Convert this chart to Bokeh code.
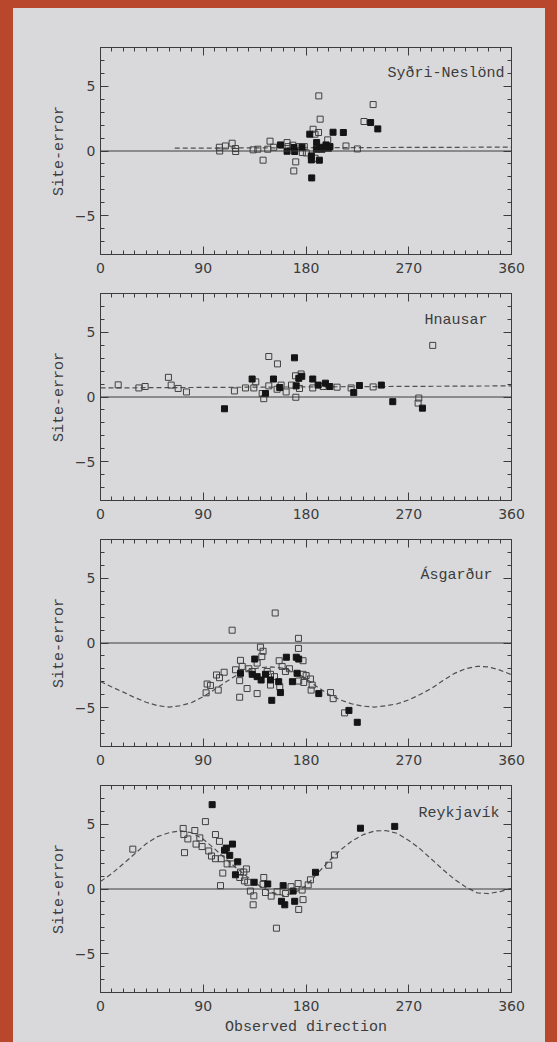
from bokeh.plotting import figure
from bokeh.layouts import column
from bokeh.models import FixedTicker, LinearAxis, Range1d, Label, Span, CustomJSTickFormatter
from bokeh.embed import file_html
from bokeh.resources import INLINE

# ---------------- data ----------------
X_MAJOR = [0, 90, 180, 270, 360]
X_MINOR = [0, 10, 20, 30, 40, 50, 60, 70, 80, 90, 100, 110, 120, 130, 140, 150, 160, 170, 180,
           190, 200, 210, 220, 230, 240, 250, 260, 270, 280, 290, 300, 310, 320, 330, 340, 350, 360]
Y_MAJOR = [-5, 0, 5]
Y_MINOR = [-8, -7, -6, -5, -4, -3, -2, -1, 0, 1, 2, 3, 4, 5, 6, 7, 8]

NAMES = ["Syðri-Neslönd", "Hnausar", "Ásgarður", "Reykjavík"]

# Syðri-Neslönd
sn_open_x = [191.2, 238.8, 192.4, 230.8, 186.2, 191.0, 148.5, 115.3, 104.1, 109.4, 104.4, 118.4, 118.2,
             133.7, 137.8, 146.5, 151.7, 163.4, 164.3, 168.4, 173.6, 176.8, 180.3, 178.5, 142.4, 171.0,
             169.3, 187.9, 199.0, 215.0, 225.0, 187.9]
sn_open_y = [4.26, 3.59, 2.46, 2.28, 1.68, 1.43, 0.76, 0.60, 0.29, 0.39, 0.00, -0.04, 0.19,
             0.09, 0.14, 0.14, 0.29, 0.65, 0.34, 0.45, 0.34, -0.12, -0.15, 0.34, -0.71, -0.84,
             -1.54, -0.56, 0.86, 0.39, 0.16, 1.30]
sn_fill_x = [236.6, 242.9, 203.7, 212.7, 183.3, 157.6, 163.4, 169.5, 170.1, 176.5, 185.0, 184.7, 184.7,
             191.7, 189.3, 197.5, 201.0, 194.1, 199.8, 192.6, 189.1]
sn_fill_y = [2.20, 1.71, 1.45, 1.43, 1.30, 0.47, -0.02, 0.27, -0.04, 0.29, -2.08, -0.38, -0.69,
             -0.71, 0.65, 0.47, 0.34, 0.14, 0.22, 0.29, 0.14]
sn_curve_x = [65, 360]
sn_curve_y = [0.22, 0.30]

# Hnausar
hn_open_x = [15.5, 33.6, 39.1, 59.5, 61.9, 68.0, 75.3, 117.3, 127.0, 136.0, 134.3, 141.6, 143.0, 147.4,
             147.4, 155.0, 154.7, 158.2, 162.6, 167.3, 170.8, 171.1, 175.7, 174.3, 185.9, 195.0, 207.2,
             219.5, 238.8, 278.8, 278.2, 291.0]
hn_open_y = [0.94, 0.70, 0.81, 1.52, 0.92, 0.66, 0.39, 0.47, 0.70, 1.17, 0.70, 0.27, -0.13, 3.13,
             0.86, 2.56, 0.60, 0.92, 0.39, 0.92, 1.64, -0.02, 1.78, 0.66, 0.70, 0.81, 0.76,
             0.70, 0.78, -0.08, -0.47, 3.99]
hn_fill_x = [108.6, 132.8, 144.5, 151.5, 157.0, 169.9, 171.4, 173.7, 176.3, 185.9, 190.6, 197.0, 200.8,
             221.8, 226.8, 246.0, 256.0, 282.0]
hn_fill_y = [-0.91, 1.39, 0.27, 1.39, 0.73, 3.03, 0.86, 1.44, 1.60, 1.39, 0.92, 1.07, 0.81,
             0.34, 0.89, 0.92, -0.36, -0.86]
hn_curve_x = [0, 360]
hn_curve_y = [0.70, 0.86]

# Ásgarður
as_open_x = [153.0, 115.3, 173.4, 173.4, 140.1, 142.4, 141.3, 137.2, 177.4, 156.5, 122.6, 124.1, 118.3,
             108.3, 101.6, 104.2, 129.9, 132.9, 146.0, 148.9, 152.4, 148.9, 157.0, 121.9, 128.4, 121.9,
             137.2, 93.4, 96.3, 103.1, 92.5, 159.1, 162.0, 165.5, 177.4, 180.1, 173.6, 178.0, 183.9,
             185.4, 184.5, 201.5, 203.8, 213.8]
as_open_y = [2.32, 0.99, 0.36, -0.42, -0.32, -0.64, -1.05, -1.55, -1.37, -1.37, -1.34, -1.81, -2.07,
             -2.26, -2.47, -2.68, -1.99, -2.20, -2.20, -2.42, -2.60, -3.25, -3.38, -2.91, -3.52, -4.19,
             -3.91, -3.17, -3.28, -3.64, -3.85, -1.81, -2.20, -1.99, -2.42, -2.52, -2.94, -3.05, -2.78,
             -3.25, -3.64, -3.83, -4.30, -5.40]
as_fill_x = [135.1, 162.8, 171.5, 173.6, 122.6, 132.9, 137.2, 140.7, 144.5, 148.9, 156.1, 157.6, 150.0,
             172.2, 168.1, 191.2, 217.6, 224.9]
as_fill_y = [-1.24, -1.10, -1.10, -1.24, -2.34, -2.42, -2.60, -2.86, -2.42, -2.86, -2.99, -3.83, -4.43,
             -2.34, -2.99, -3.91, -5.21, -6.13]
as_curve_x = [0, 10, 20, 30, 40, 50, 60, 70, 80, 90, 100, 110, 120, 130, 140, 150, 160, 170, 180,
              190, 200, 210, 220, 230, 240, 250, 260, 270, 280, 290, 300, 310, 320, 330, 340, 350, 360]
as_curve_y = [-2.98, -3.40, -3.80, -4.22, -4.58, -4.84, -4.95, -4.85, -4.60, -4.15, -3.60, -3.00, -2.45,
              -2.10, -1.90, -1.85, -1.95, -2.25, -2.75, -3.40, -3.98, -4.40, -4.70, -4.88, -4.95, -4.85,
              -4.70, -4.40, -3.98, -3.50, -2.90, -2.35, -1.98, -1.80, -1.85, -2.10, -2.45]

# Reykjavík
rv_open_x = [91.9, 72.4, 82.6, 28.3, 73.0, 76.5, 87.0, 100.7, 83.7, 89.0, 73.6, 104.2, 94.8, 97.2, 100.7,
             105.7, 110.9, 115.3, 107.1, 105.1, 122.6, 125.5, 127.8, 122.0, 126.1, 129.0, 143.0, 142.4,
             131.3, 134.3, 133.7, 144.5, 149.5, 154.7, 154.1, 166.9, 173.1, 173.6, 162.0, 204.9, 199.9,
             183.9, 181.9, 176.6, 177.4]
rv_open_y = [5.21, 4.68, 4.52, 3.08, 4.21, 3.87, 3.95, 4.21, 3.47, 3.28, 2.81, 3.68, 2.94, 2.55, 2.34,
             2.34, 1.94, 1.94, 1.23, 0.26, 1.31, 1.31, 1.55, 0.89, 0.63, 0.52, 0.89, 0.36,
             -0.16, -0.53, -1.22, -0.27, -0.55, -0.21, -3.03, 0.18, 0.42, -1.58, -0.35, 2.63, 1.84,
             0.71, 0.32, -0.08, -0.82]
rv_fill_x = [97.8, 108.6, 110.2, 115.6, 113.2, 120.2, 118.2, 134.6, 146.5, 160.0, 158.5, 161.4, 170.1,
             168.7, 227.7, 257.7, 188.3]
rv_fill_y = [6.52, 3.00, 3.16, 3.47, 2.60, 2.10, 1.10, 0.52, 0.39, 0.26, -0.95, -1.22, -0.95,
             -0.16, 4.70, 4.84, 1.29]
rv_curve_x = [0, 10, 20, 30, 40, 50, 60, 70, 80, 90, 100, 110, 120, 130, 140, 150, 160, 170, 180,
              190, 200, 210, 220, 230, 240, 250, 260, 270, 280, 290, 300, 310, 320, 330, 340, 350, 360]
rv_curve_y = [0.58, 1.20, 1.95, 2.72, 3.50, 4.05, 4.35, 4.50, 4.35, 3.85, 3.10, 2.30, 1.55, 0.85, 0.20,
              -0.25, -0.50, -0.30, 0.25, 1.20, 2.15, 3.00, 3.70, 4.20, 4.48, 4.52, 4.30, 3.75, 3.10,
              2.30, 1.50, 0.75, 0.15, -0.30, -0.35, -0.20, 0.05]

# ---------------- styling / layout ----------------
PAPER = "#d9d9db"
INK = "#3c3c3c"
BORDER = "#b8472b"
LABEL_FONT = "Liberation Mono"
TICK_FONT = "DejaVu Sans"


def style_axis(ax, show_labels):
    ax.axis_line_color = None
    ax.major_tick_in = 8
    ax.major_tick_out = 0
    ax.minor_tick_in = 4
    ax.minor_tick_out = 0
    ax.major_tick_line_color = INK
    ax.minor_tick_line_color = INK
    ax.major_tick_line_width = 1
    ax.minor_tick_line_width = 1
    if show_labels:
        ax.major_label_text_font = TICK_FONT
        ax.major_label_text_font_size = "14px"
        ax.major_label_text_color = INK
    else:
        ax.formatter = CustomJSTickFormatter(code="return ''")
        ax.major_label_text_font_size = "0px"
        ax.major_label_standoff = 0
    ax.axis_label_text_font = LABEL_FONT
    ax.axis_label_text_font_size = "15px"
    ax.axis_label_text_font_style = "normal"
    ax.axis_label_text_color = INK


def make_panel(name, tx, ty, ox, oy, fx, fy, cx, cy, top, bottom, xlabel=None):
    p = figure(frame_width=411, frame_height=207,
               x_range=Range1d(0, 360), y_range=Range1d(-8, 8),
               output_backend="svg", toolbar_location=None,
               x_axis_location=None, y_axis_location=None,
               min_border_left=87, min_border_right=34,
               min_border_top=top, min_border_bottom=bottom,
               background_fill_color=PAPER, border_fill_color=PAPER,
               outline_line_color=INK, outline_line_width=1)
    p.grid.visible = False

    xt = FixedTicker(ticks=X_MAJOR, minor_ticks=X_MINOR)
    yt = FixedTicker(ticks=Y_MAJOR, minor_ticks=Y_MINOR)

    xb = LinearAxis(ticker=xt)
    style_axis(xb, True)
    xb.major_label_standoff = 8
    if xlabel:
        xb.axis_label = xlabel
        xb.axis_label_standoff = 5
    p.add_layout(xb, "below")

    xa = LinearAxis(ticker=xt)
    style_axis(xa, False)
    p.add_layout(xa, "above")

    yl = LinearAxis(ticker=yt, axis_label="Site-error")
    style_axis(yl, True)
    yl.major_label_standoff = 5
    yl.axis_label_standoff = 4
    p.add_layout(yl, "left")

    yr = LinearAxis(ticker=yt)
    style_axis(yr, False)
    p.add_layout(yr, "right")

    p.add_layout(Span(location=0, dimension="width", line_color=INK, line_width=1))
    p.line(cx, cy, line_color="#505050", line_width=1.2, line_dash="5 3")

    p.scatter(ox, oy, marker="square", size=6, fill_color=None, line_color="#404040", line_width=1)
    p.scatter(fx, fy, marker="square", size=6, fill_color="#141414", line_color="#141414", line_width=1)

    p.add_layout(Label(x=tx, y=ty, text=name, text_align="right", text_baseline="middle",
                       text_font=LABEL_FONT, text_font_size="15px", text_color=INK))
    return p


p1 = make_panel(NAMES[0], 353.9, 6.0, sn_open_x, sn_open_y, sn_fill_x, sn_fill_y, sn_curve_x, sn_curve_y, 39, 22)
p2 = make_panel(NAMES[1], 339.0, 5.95, hn_open_x, hn_open_y, hn_fill_x, hn_fill_y, hn_curve_x, hn_curve_y, 17, 22)
p3 = make_panel(NAMES[2], 343.4, 5.2, as_open_x, as_open_y, as_fill_x, as_fill_y, as_curve_x, as_curve_y, 17, 22)
p4 = make_panel(NAMES[3], 349.5, 5.85, rv_open_x, rv_open_y, rv_fill_x, rv_fill_y, rv_curve_x, rv_curve_y, 17, 50,
                xlabel="Observed direction")

layout = column(p1, p2, p3, p4, spacing=0, margin=(8, 0, 0, 13),
                styles={"background-color": PAPER})

template = "{% block preamble %}<style>body{background:" + BORDER + ";}</style>{% endblock %}"
open("out.html", "w").write(file_html(layout, INLINE, template=template))
